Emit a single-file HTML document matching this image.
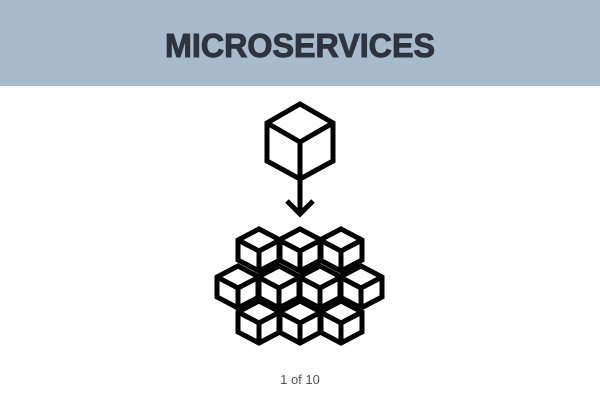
<!DOCTYPE html>
<html><head><meta charset="utf-8"><style>
html,body{margin:0;padding:0;background:#fff;}
body{width:600px;height:400px;overflow:hidden;}
</style></head><body>
<svg width="600" height="400" viewBox="0 0 600 400" xmlns="http://www.w3.org/2000/svg">
<rect x="0" y="0" width="600" height="86" fill="#a8bbcd"/>
<text x="300" y="57" text-anchor="middle" font-family="Liberation Sans, sans-serif" font-weight="bold" font-size="33" fill="#2e333d" stroke="#2e333d" stroke-width="1" textLength="270" lengthAdjust="spacingAndGlyphs">MICROSERVICES</text>
<g fill="#fff" stroke="#000" stroke-width="5" stroke-linejoin="miter">
<path d="M300,104 L333,123 L333,161 L300,179 L267,161 L267,123 Z"/>
<path d="M267,123 L300,142 L333,123 M300,142 L300,179" fill="none"/>
</g>
<path d="M300,179 L300,213 M287,201 L300,214 L313,201" fill="none" stroke="#000" stroke-width="5"/>
<defs>
<g id="c">
<path d="M0,0 L21,11 L21,31 L0,42 L-21,31 L-21,11 Z" fill="none" stroke="#000" stroke-width="5"/>
<path d="M-21,11 L0,22 L21,11 M0,22 L0,42" fill="none" stroke="#000" stroke-width="5"/>
</g>
</defs>
<use href="#c" x="259" y="229"/>
<use href="#c" x="300" y="229"/>
<use href="#c" x="341" y="229"/>
<use href="#c" x="238" y="266"/>
<use href="#c" x="279" y="266"/>
<use href="#c" x="320" y="266"/>
<use href="#c" x="361" y="266"/>
<use href="#c" x="259" y="301"/>
<use href="#c" x="300" y="301"/>
<use href="#c" x="341" y="301"/>
<text x="300" y="384" text-anchor="middle" font-family="Liberation Sans, sans-serif" font-size="13" fill="#555">1 of 10</text>
</svg>
</body></html>
